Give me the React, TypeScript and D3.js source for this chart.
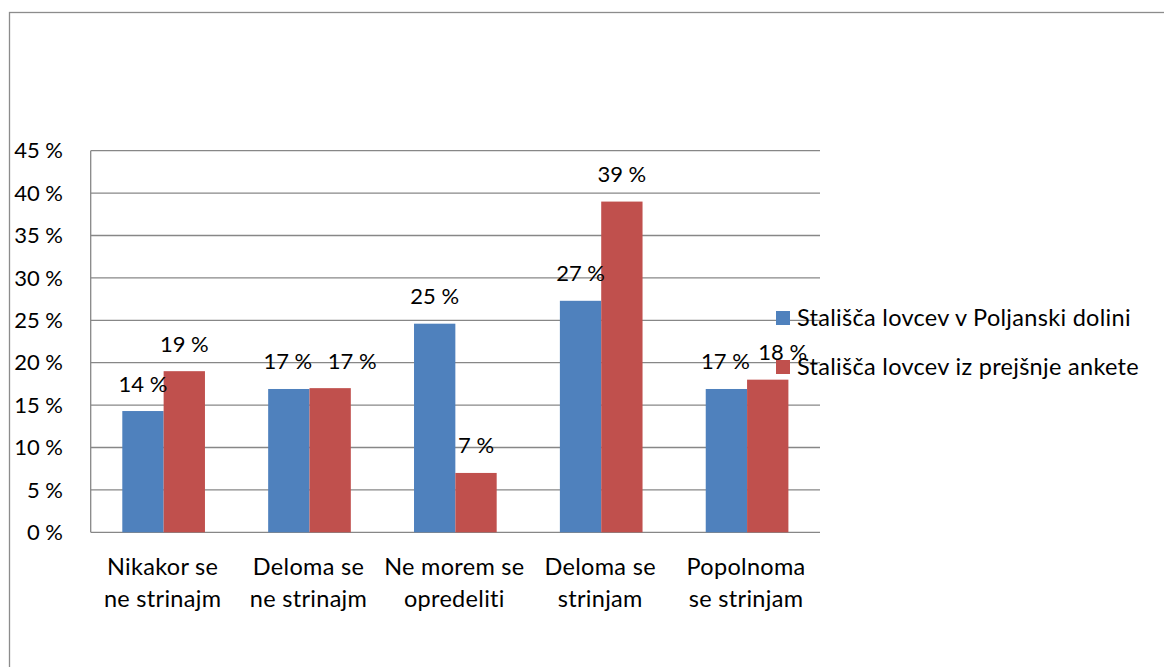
import React from "react";
import * as d3 from "d3";

const categories: string[][] = [
  ["Nikakor se", "ne strinajm"],
  ["Deloma se", "ne strinajm"],
  ["Ne morem se", "opredeliti"],
  ["Deloma se", "strinjam"],
  ["Popolnoma", "se strinjam"],
];
const seriesNames = [
  "Stališča lovcev v Poljanski dolini",
  "Stališča lovcev iz prejšnje ankete",
];
const poljanska = [14.3, 16.9, 24.6, 27.3, 16.9];
const prejsnja = [19.0, 17.0, 7.0, 39.0, 18.0];
const labelsA = ["14 %", "17 %", "25 %", "27 %", "17 %"];
const labelsB = ["19 %", "17 %", "7 %", "39 %", "18 %"];
const yTicks = [0, 5, 10, 15, 20, 25, 30, 35, 40, 45];

// horizontal nudges applied to crowded data labels (as in the reference)
const labelShiftA = [0, -1, 0, 0, -1];
const labelShiftB = [0, 22, 0, 0, 15];

const colors = ["#4F81BD", "#C0504D"];
const FONT = "Lato, 'Open Sans', sans-serif";

export default function App() {
  const W = 1164, H = 667;
  const left = 90.7, right = 820, top = 150.7, bottom = 532.3;
  const x = d3.scaleBand<number>().domain(d3.range(categories.length)).range([left, right]).paddingInner(0).paddingOuter(0);
  const y = d3.scaleLinear().domain([0, 45]).range([bottom, top]);
  const groupPad = 31.6;
  const inner = d3.scaleBand<number>().domain([0, 1]).range([0, x.bandwidth() - 2 * groupPad]);
  const series = [poljanska, prejsnja];
  const labels = [labelsA, labelsB];
  const shifts = [labelShiftA, labelShiftB];
  const fs = 23.5;
  const ls = 0.3;
  const nfs = 22;

  return (
    <svg width={W} height={H} style={{ position: "absolute", left: 0, top: 0, background: "#fff" }} fontFamily={FONT}>
      <rect x={9.5} y={12.5} width={1300} height={800} fill="#fff" stroke="#8c8c8c" strokeWidth={1.3} />
      {yTicks.map((t) => (
        <g key={t}>
          <line x1={left} x2={right} y1={y(t)} y2={y(t)} stroke="#878787" strokeWidth={1.3} />
          <text x={63} y={y(t)} dy="0.35em" textAnchor="end" fontSize={nfs} fill="#000">{`${t} %`}</text>
        </g>
      ))}
      <line x1={left} x2={left} y1={top} y2={bottom} stroke="#878787" strokeWidth={1.3} />
      {series.map((s, si) =>
        s.map((v, i) => {
          const bx = (x(i) as number) + groupPad + (inner(si) as number);
          return (
            <rect key={`${si}-${i}`} x={bx} y={y(v)} width={inner.bandwidth()} height={y(0) - y(v)} fill={colors[si]} />
          );
        })
      )}
      {series.map((s, si) =>
        s.map((v, i) => {
          const cx = (x(i) as number) + groupPad + (inner(si) as number) + inner.bandwidth() / 2 + shifts[si][i];
          return (
            <text key={`l${si}-${i}`} x={cx} y={y(v) - 19.5} textAnchor="middle" fontSize={nfs} fill="#000">{labels[si][i]}</text>
          );
        })
      )}
      {categories.map((c, i) => (
        <text key={`c${i}`} x={(x(i) as number) + x.bandwidth() / 2 - 1} y={575} textAnchor="middle" fontSize={fs} letterSpacing={ls} fill="#000">
          {c.map((line, li) => (
            <tspan key={li} x={(x(i) as number) + x.bandwidth() / 2 - 1} dy={li === 0 ? 0 : 31.7}>{line}</tspan>
          ))}
        </text>
      ))}
      {seriesNames.map((n, i) => (
        <g key={n} transform={`translate(776, ${318 + i * 49})`}>
          <rect x={0} y={-7} width={14} height={14} fill={colors[i]} />
          <text x={21} y={0} dy="0.35em" fontSize={fs} letterSpacing={ls} fill="#000">{n}</text>
        </g>
      ))}
    </svg>
  );
}
